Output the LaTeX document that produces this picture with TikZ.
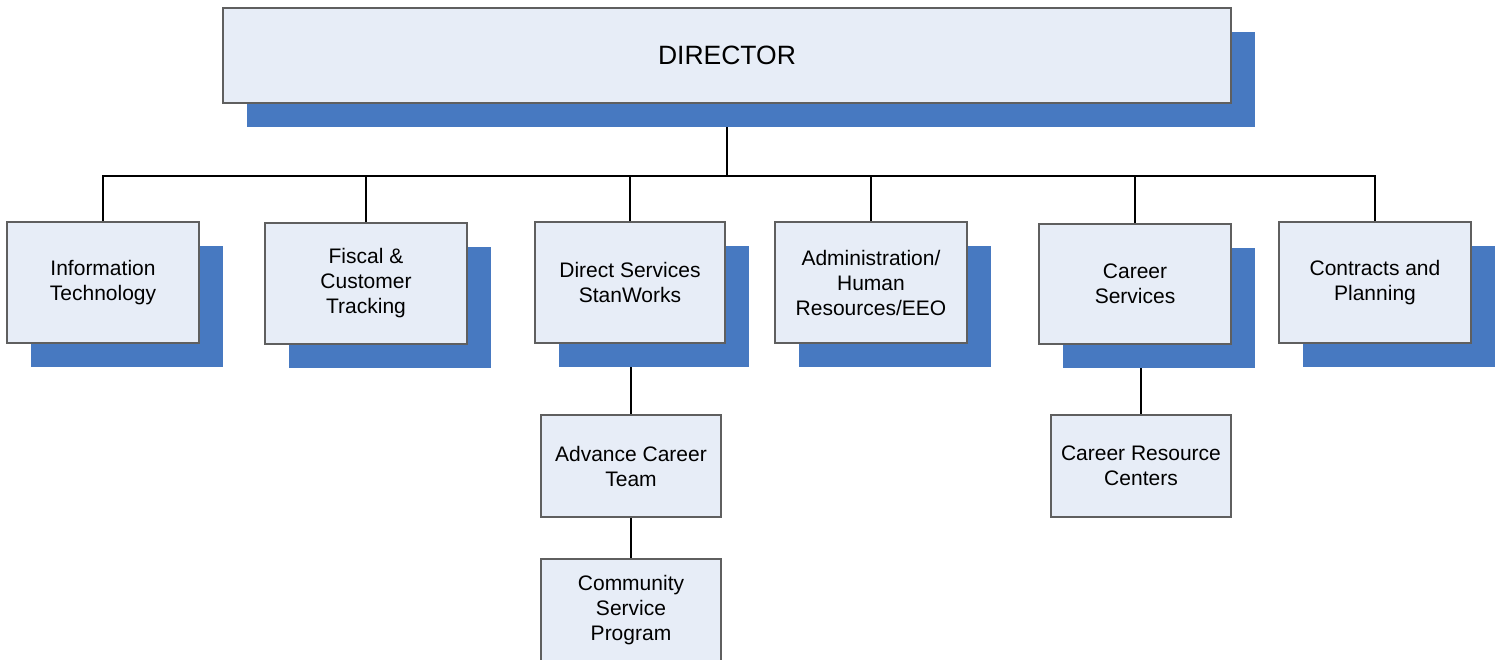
\documentclass[tikz,border=0pt]{standalone}
\usepackage{fontspec}
\setmainfont{Liberation Sans}
\usepackage{tikz}
\usetikzlibrary{shadows,backgrounds}
\definecolor{boxfill}{HTML}{E7EDF7}
\definecolor{boxline}{HTML}{5F5F5F}
\definecolor{shadowblue}{HTML}{4779C1}
\tikzset{
	unit/.style={draw=boxline,line width=1.2pt,fill=boxfill,inner sep=0pt,align=center,
		font=\fontsize{21}{25}\selectfont,
		drop shadow={shadow xshift=24pt,shadow yshift=-24pt,fill=shadowblue,opacity=1}},
	subunit/.style={draw=boxline,line width=1.2pt,fill=boxfill,inner sep=0pt,align=center,
		font=\fontsize{21}{25}\selectfont},
	link/.style={line width=2pt,black}
}
\begin{document}
\begin{tikzpicture}[x=1pt,y=-1pt]
\useasboundingbox (0,0) rectangle (1499,660);
\node[unit,minimum width=1008pt,minimum height=95pt,font=\fontsize{26.5}{30}\selectfont] (dir) at (727,55.5) {DIRECTOR};
\node[unit,minimum width=192pt,minimum height=121pt] (it) at (103,282.5) {Information\\Technology};
\node[unit,minimum width=202pt,minimum height=121pt] (fis) at (366,283.5) {Fiscal \&\\Customer\\Tracking};
\node[unit,minimum width=190pt,minimum height=121pt] (ds) at (630,282.5) {Direct Services\\StanWorks};
\node[unit,minimum width=192pt,minimum height=121pt] (adm) at (871,282.5) {Administration/\\Human\\Resources/EEO};
\node[unit,minimum width=192pt,minimum height=120pt] (car) at (1135,284) {Career\\Services};
\node[unit,minimum width=192pt,minimum height=121pt] (con) at (1375,282.5) {Contracts and\\Planning};
\node[subunit,minimum width=180pt,minimum height=102pt] (act) at (631,466) {Advance Career\\Team};
\node[subunit,minimum width=180pt,minimum height=102pt] (csp) at (631,610) {Community\\Service\\Program};
\node[subunit,minimum width=180pt,minimum height=102pt] (crc) at (1141,466) {Career Resource\\Centers};
\begin{scope}[on background layer]
\draw[link] (dir.south) -- ++(0,72) coordinate (bus);
\foreach \n in {it,fis,ds,adm,car,con}
	\draw[link] (\n.north) |- (bus);
\draw[link] (act.north) -- (act.north |- ds.south);
\draw[link] (act.south) -- (csp.north);
\draw[link] (crc.north) -- (crc.north |- car.south);
\end{scope}
\end{tikzpicture}
\end{document}
